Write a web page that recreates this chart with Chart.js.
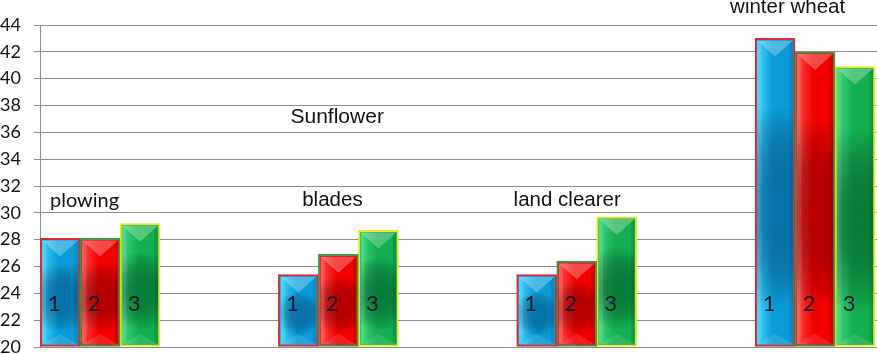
<!DOCTYPE html>
<html>
<head>
<meta charset="utf-8">
<script src="https://cdn.jsdelivr.net/npm/chart.js@4"></script>
<style>
  html, body { margin: 0; padding: 0; background: #fff; }
  #wrap { width: 877px; height: 354px; }
</style>
</head>
<body>
<div id="wrap"><canvas id="barChart"></canvas></div>
<script>
// Data
const categories = ["plowing", "blades", "land clearer", "winter wheat"];
const seriesNames = ["1", "2", "3"];
const series1 = [28.1, 25.4, 25.4, 43.0];
const series2 = [28.1, 26.9, 26.4, 42.0];
const series3 = [29.2, 28.7, 29.7, 40.9];
const yTicks = [20, 22, 24, 26, 28, 30, 32, 34, 36, 38, 40, 42, 44];
const cropTitle = "Sunflower";

// Colours per series: fill (light, base, dark) and border
const palette = [
    { light: "#3fd0fa", base: "#0a9ad8", dark: "#0568a8", border: "#e0282a" },
    { light: "#ff4a4a", base: "#f20000", dark: "#a80000", border: "#3a9a4a" },
    { light: "#3fd67c", base: "#12ae50", dark: "#006a30", border: "#e8e824" }
];

const seriesValues = [series1, series2, series3];

// Label spots (x offset in category units, y in axis units)
const labelSpots = [
    { dx: -0.065, y: 30.9, font: "20px Lato" },
    { dx: -0.025, y: 30.9, font: "20.5px 'Liberation Sans'" },
    { dx: -0.04, y: 30.9, font: "20.5px 'Liberation Sans'" },
    { dx: -0.115, y: 45.3, font: "20.5px 'Liberation Sans'" }
];

const bevelPlugin = {
    id: "bevel",
    afterDatasetsDraw(chart) {
        const ctx = chart.ctx;
        chart.data.datasets.forEach((ds, di) => {
            const meta = chart.getDatasetMeta(di);
            const c = palette[di];
            meta.data.forEach(el => {
                const p = el.getProps(["x", "y", "base", "width"], true);
                const bw = 2;
                const l = p.x - p.width / 2 + bw;
                const r = p.x + p.width / 2 - bw;
                const t = p.y + bw;
                const b = p.base - bw;
                const w = r - l;
                const h = b - t;
                ctx.save();
                ctx.beginPath();
                ctx.rect(l, t, w, h);
                ctx.clip();

                // horizontal shading
                const g = ctx.createLinearGradient(l, 0, r, 0);
                g.addColorStop(0, c.light);
                g.addColorStop(0.45, c.base);
                g.addColorStop(1, c.base);
                ctx.fillStyle = g;
                ctx.fillRect(l, t, w, h);

                // dark centre
                const cy = t + h * 0.55;
                const rg = ctx.createRadialGradient(p.x, cy, 0, p.x, cy, Math.max(w, h * 0.6));
                rg.addColorStop(0, c.dark);
                rg.addColorStop(0.55, "rgba(0,0,0,0)");
                ctx.globalAlpha = 0.7;
                ctx.fillStyle = rg;
                ctx.fillRect(l, t, w, h);
                ctx.globalAlpha = 1;

                // top facet
                ctx.beginPath();
                ctx.moveTo(l, t);
                ctx.lineTo(r, t);
                ctx.lineTo(p.x, t + w * 0.45);
                ctx.closePath();
                ctx.fillStyle = "rgba(255,255,255,0.28)";
                ctx.fill();

                // side facets
                ctx.beginPath();
                ctx.moveTo(l, t);
                ctx.lineTo(l + w * 0.12, t + w * 0.1);
                ctx.lineTo(l + w * 0.12, b - w * 0.1);
                ctx.lineTo(l, b);
                ctx.closePath();
                ctx.fillStyle = "rgba(255,255,255,0.12)";
                ctx.fill();
                ctx.beginPath();
                ctx.moveTo(r, t);
                ctx.lineTo(r - w * 0.1, t + w * 0.1);
                ctx.lineTo(r - w * 0.1, b - w * 0.1);
                ctx.lineTo(r, b);
                ctx.closePath();
                ctx.fillStyle = "rgba(0,0,0,0.1)";
                ctx.fill();

                // bottom facet
                ctx.beginPath();
                ctx.moveTo(l, b);
                ctx.lineTo(r, b);
                ctx.lineTo(p.x, b - w * 0.3);
                ctx.closePath();
                ctx.fillStyle = "rgba(255,255,255,0.12)";
                ctx.fill();
                ctx.restore();

                // series number
                ctx.save();
                ctx.font = "22px Lato";
                ctx.fillStyle = "#141a2c";
                ctx.textAlign = "center";
                ctx.textBaseline = "middle";
                ctx.fillText(ds.label, p.x - 6, chart.scales.y.getPixelForValue(23.2));
                ctx.restore();
            });
        });
    },
    afterDraw(chart) {
        const ctx = chart.ctx;
        const xs = chart.scales.x;
        const ys = chart.scales.y;
        ctx.save();
        ctx.fillStyle = "#111";
        ctx.textAlign = "center";
        ctx.textBaseline = "middle";
        categories.forEach((name, i) => {
            const s = labelSpots[i];
            ctx.font = s.font;
            ctx.fillText(name, xs.getPixelForValue(i + s.dx), ys.getPixelForValue(s.y));
        });
        ctx.font = "21px 'Liberation Sans'";
        ctx.fillText(cropTitle, xs.getPixelForValue(0.995), ys.getPixelForValue(37.1));
        ctx.restore();
    }
};

new Chart(document.getElementById("barChart"), {
    type: "bar",
    data: {
        datasets: seriesNames.map((name, si) => ({
            label: name,
            data: seriesValues[si].map((v, i) => ({ x: i, y: v })),
            backgroundColor: palette[si].base,
            borderColor: palette[si].border,
            borderWidth: 2,
            borderSkipped: false,
            barThickness: 40,
            base: yTicks[0]
        }))
    },
    options: {
        responsive: true,
        maintainAspectRatio: false,
        animation: false,
        layout: { padding: { top: 25, bottom: 7, left: 0, right: 0 } },
        plugins: {
            legend: { display: false },
            tooltip: { enabled: false }
        },
        scales: {
            x: {
                type: "linear",
                offset: false,
                min: -0.252,
                max: 3.26,
                display: false
            },
            y: {
                min: 20,
                max: 44,
                afterBuildTicks(scale) {
                    scale.ticks = yTicks.map(v => ({ value: v }));
                },
                afterFit(scale) {
                    scale.width = 40;
                    scale.paddingTop = 0;
                    scale.paddingBottom = 0;
                },
                ticks: {
                    crossAlign: "far",
                    padding: 4,
                    color: "#111",
                    font: { family: "Lato", size: 18 }
                },
                grid: {
                    color: "#8c8c8c",
                    lineWidth: 1,
                    tickLength: 6
                },
                border: { color: "#8c8c8c", width: 1 }
            }
        }
    },
    plugins: [bevelPlugin]
});
</script>
</body>
</html>
